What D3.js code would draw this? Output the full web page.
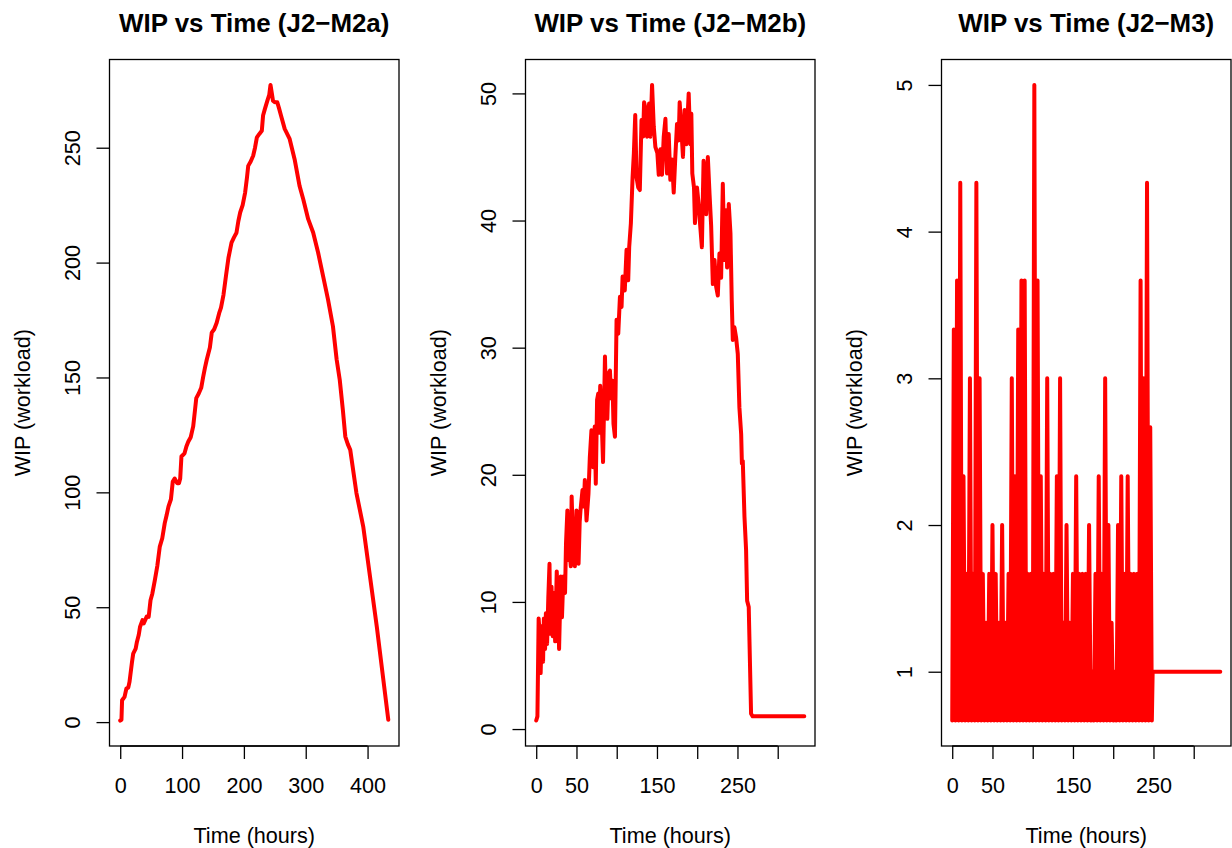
<!DOCTYPE html>
<html><head><meta charset="utf-8">
<script src="https://cdn.jsdelivr.net/npm/d3@7"></script>
<style>html,body{margin:0;padding:0;background:#fff;} svg{display:block;}</style>
</head><body>
<svg id="chart" width="1232" height="848"></svg>
<script>
// ---------- data ----------
const titles = ["WIP vs Time (J2\u2212M2a)", "WIP vs Time (J2\u2212M2b)", "WIP vs Time (J2\u2212M3)"];
const xTitle = "Time (hours)";
const yTitle = "WIP (workload)";

const m2aTime = [0, 2, 3, 7, 10, 13, 15, 19, 21, 25, 27, 30, 32, 36, 38, 43, 46, 49, 52, 56, 60, 64, 68, 72, 75, 78, 82, 85, 88, 92, 95, 97, 99, 104, 107, 110, 114, 118, 121, 123, 127, 131, 134, 137, 140, 145, 148, 152, 156, 160, 163, 167, 171, 175, 180, 184, 188, 191, 194, 198, 202, 205, 207, 211, 215, 218, 221, 225, 229, 231, 234, 238, 241, 243, 245, 247, 250, 254, 257, 260, 266, 274, 282, 290, 296, 304, 312, 320, 328, 336, 344, 350, 355, 360, 364, 368, 372, 382, 393, 404, 415, 433.5];
const m2aWip = [0.667, 1, 9.5, 11, 14.6, 15, 17.5, 26, 29.8, 32, 34.9, 38, 41.4, 44.4, 43, 46, 45.8, 53, 56, 61.8, 68, 76.4, 80, 86.6, 90, 93.8, 97, 104.7, 106, 104, 104, 106, 115.6, 117, 120, 122, 124, 128.7, 136, 141, 143, 145.5, 150, 154.2, 157.8, 163, 169.5, 171, 173.8, 178, 180.4, 186, 194.2, 202, 208.7, 211, 213, 218, 221.8, 225, 230.5, 237, 242.1, 244, 246.5, 250, 254.5, 256, 257.4, 264, 266.9, 270.5, 273, 277.33, 274, 270.5, 269.8, 269.8, 267, 264, 258.2, 253.8, 245, 233.4, 227.6, 218.9, 213.1, 204.4, 194.2, 184, 172.3, 157.8, 149, 136, 124.3, 121, 118.5, 99.7, 85.1, 63.3, 41.4, 1];

const m2bTime = [0, 1.5, 3, 4.5, 5.5, 7, 8.5, 9.5, 11, 12, 13.5, 15, 16.5, 17.5, 19, 20.5, 22, 23.5, 25.5, 27, 28.4, 30.5, 32, 33.7, 35.8, 37, 38.7, 40, 41.1, 43, 44, 46, 48, 50, 52.6, 54, 55, 57.5, 59, 60.4, 62.5, 64.9, 66.6, 68.6, 70.7, 72.7, 74, 75.6, 77.1, 78, 79.5, 81.3, 83, 85.4, 86.5, 88.3, 90, 91.6, 93, 94.7, 96, 97.8, 99.8, 101.9, 104, 106, 107.3, 110, 112.2, 114.3, 115.5, 117.6, 119.7, 121.3, 123, 124.6, 126.7, 128.7, 130.8, 132.8, 134, 136.1, 137.7, 140.2, 141.8, 143.9, 146, 148, 150.5, 152.2, 154.3, 156.3, 158.4, 160.5, 162.5, 164.6, 166.6, 168.7, 170.8, 172.8, 174.9, 176.9, 178.2, 180.3, 182.3, 184.4, 186.5, 189.4, 191.4, 192.7, 193.9, 196, 197.2, 199.7, 202.1, 203.7, 205.8, 207.9, 209.5, 211.2, 213.2, 215.3, 217.3, 219.4, 221.5, 223.5, 225.6, 227.6, 229.7, 231.8, 233.8, 235.9, 237.1, 239.2, 241.3, 242.9, 244.2, 246.2, 248.3, 250.4, 252.4, 254.6, 255.5, 256.6, 258.7, 260.7, 262, 264, 266.9, 268.9, 333];
const m2bWip = [0.667, 1, 8.7, 7.3, 4.4, 8.1, 5.3, 8.7, 6.3, 9.1, 6.7, 10.3, 13, 7.5, 11.2, 7.3, 10.7, 6.9, 12.4, 9.9, 6.3, 12, 8.8, 12, 10.7, 14.6, 17.2, 13.3, 14.3, 12.8, 18.3, 14.1, 12.8, 17.2, 13, 16.3, 17.2, 18.8, 17.5, 19.6, 16.4, 18.5, 21.4, 23.5, 20.6, 23.8, 19.3, 25.9, 26.4, 23.3, 27, 24.3, 21, 29.3, 26, 24.4, 28, 28.2, 26, 27.4, 24, 23, 32.2, 31.1, 34, 33.2, 35.6, 34.5, 37.7, 35.3, 37.9, 39.8, 43.4, 45.3, 48.3, 43.4, 42.6, 42.4, 47.9, 46.6, 49.3, 48.7, 46.6, 49.2, 46.6, 50.667, 47.4, 45.8, 45.3, 43.6, 45.6, 43.6, 46.6, 48, 43.7, 46.8, 43.2, 44.8, 42.2, 45, 47.6, 46.3, 49.3, 47.2, 45, 48.7, 46, 50, 46, 48.4, 43.7, 42.6, 39.8, 42.6, 41.1, 39.6, 37.9, 44.7, 43, 40.5, 45, 42.1, 39.6, 35, 36.9, 34.8, 34.1, 37.4, 35.5, 42.9, 36.9, 40.8, 36.3, 41.3, 39, 33.7, 30.6, 31.6, 30.8, 29.5, 25.3, 23.2, 20.9, 21.1, 16.7, 14.1, 10.1, 9.6, 1.2, 1, 1];

// J2-M3: samples every m3Step hours from t = 0, then a flat tail
const m3Step = 2;
const m3Wip = [
  0.667, 3.333, 0.667, 3.667, 0.667, 4.333, 0.667, 2.333, 0.667, 1.667,
  0.667, 3, 0.667, 1.667, 0.667, 4.333, 0.667, 3, 0.667, 1.667,
  0.667, 1.333, 0.667, 1.667, 0.667, 2, 0.667, 1.667, 0.667, 1.333,
  0.667, 2, 0.667, 1.333, 0.667, 1.667, 0.667, 3, 0.667, 2.333,
  0.667, 3.333, 0.667, 3.667, 0.667, 3.667, 0.667, 1.667, 0.667, 1.667,
  0.667, 5, 0.667, 3.667, 0.667, 2.333, 0.667, 1.667, 0.667, 3,
  0.667, 1.667, 0.667, 1.667, 0.667, 2.333, 0.667, 3, 0.667, 1.333,
  0.667, 2, 0.667, 1.333, 0.667, 1.667, 0.667, 2.333, 0.667, 1.667,
  0.667, 1.667, 0.667, 1.667, 0.667, 2, 0.667, 1, 0.667, 1.667,
  0.667, 2.333, 0.667, 1.667, 0.667, 3, 0.667, 2, 0.667, 1.333,
  0.667, 1, 0.667, 2, 0.667, 2.333, 0.667, 1.667, 0.667, 2.333,
  0.667, 1.667, 0.667, 1.667, 0.667, 1.667, 0.667, 3.667, 0.667, 3,
  0.667, 4.333, 0.667, 2.667, 0.667
];
const m3TailTime = [249, 333];
const m3TailWip = [1, 1];

const xTickValues = [[0, 100, 200, 300, 400], [0, 50, 100, 150, 200, 250, 300], [0, 50, 100, 150, 200, 250, 300]];
const xTickLabels = [["0", "100", "200", "300", "400"], ["0", "50", "", "150", "", "250", ""], ["0", "50", "", "150", "", "250", ""]];
const yTickValues = [[0, 50, 100, 150, 200, 250], [0, 10, 20, 30, 40, 50], [1, 2, 3, 4, 5]];

// ---------- build series ----------
const series = [
  m2aTime.map((t, i) => [t, m2aWip[i]]),
  m2bTime.map((t, i) => [t, m2bWip[i]]),
  m3Wip.map((v, i) => [i * m3Step, v]).concat(m3TailTime.map((t, i) => [t, m3TailWip[i]]))
];

// ---------- layout ----------
const svg = d3.select("#chart");
const boxLefts = [109.5, 525.5, 941.5];
const boxW = 289.5, boxTop = 59.5, boxBottom = 746;
const FONT = "'Liberation Sans', Arial, Helvetica, sans-serif";
const FS = 21.6;

function pad(ext) { const d = (ext[1] - ext[0]) * 0.04; return [ext[0] - d, ext[1] + d]; }

series.forEach((data, p) => {
  const L = boxLefts[p], R = L + boxW;
  const x = d3.scaleLinear().domain(pad(d3.extent(data, d => d[0]))).range([L, R]);
  const y = d3.scaleLinear().domain(pad(d3.extent(data, d => d[1]))).range([boxBottom, boxTop]);
  const g = svg.append("g");

  // line
  g.append("path")
    .datum(data)
    .attr("fill", "none")
    .attr("stroke", "#ff0000")
    .attr("stroke-width", 4)
    .attr("stroke-linejoin", "round")
    .attr("stroke-linecap", "round")
    .attr("d", d3.line().x(d => x(d[0])).y(d => y(d[1])));

  // x axis
  const xa = g.append("g").attr("transform", `translate(0,${boxBottom})`)
    .call(d3.axisBottom(x).tickValues(xTickValues[p]).tickSize(13).tickSizeOuter(0)
      .tickFormat((d, i) => xTickLabels[p][i]));
  xa.select(".domain").remove();
  xa.selectAll(".tick line").attr("stroke", "#000").attr("stroke-width", 1.3);
  xa.selectAll(".tick text").attr("y", 46.7).attr("dy", 0)
    .attr("font-family", FONT).attr("font-size", FS).attr("fill", "#000");
  const xt = xTickValues[p];
  g.append("line").attr("x1", x(xt[0])).attr("x2", x(xt[xt.length - 1]))
    .attr("y1", boxBottom).attr("y2", boxBottom).attr("stroke", "#000").attr("stroke-width", 1.3);

  // y axis
  const ya = g.append("g").attr("transform", `translate(${L},0)`)
    .call(d3.axisLeft(y).tickValues(yTickValues[p]).tickSize(13).tickSizeOuter(0).tickFormat(d3.format("d")));
  ya.select(".domain").remove();
  ya.selectAll(".tick line").attr("stroke", "#000").attr("stroke-width", 1.3);
  ya.selectAll(".tick text")
    .attr("transform", "rotate(-90)")
    .attr("x", 0).attr("y", -29.5).attr("dy", 0)
    .attr("text-anchor", "middle")
    .attr("font-family", FONT).attr("font-size", FS).attr("fill", "#000");

  // box
  g.append("rect").attr("x", L).attr("y", boxTop).attr("width", boxW).attr("height", boxBottom - boxTop)
    .attr("fill", "none").attr("stroke", "#000").attr("stroke-width", 1.3);

  // title
  g.append("text").attr("x", (L + R) / 2).attr("y", 31.7)
    .attr("text-anchor", "middle").attr("font-family", FONT).attr("font-weight", "bold")
    .attr("font-size", 25.9).attr("fill", "#000").text(titles[p]);

  // x title
  g.append("text").attr("x", (L + R) / 2).attr("y", 842.5)
    .attr("text-anchor", "middle").attr("font-family", FONT)
    .attr("font-size", FS).attr("fill", "#000").text(xTitle);

  // y title
  const cy = (boxTop + boxBottom) / 2;
  g.append("text").attr("transform", `translate(${L - 80},${cy}) rotate(-90)`)
    .attr("text-anchor", "middle").attr("font-family", FONT)
    .attr("font-size", FS).attr("fill", "#000").text(yTitle);
});
</script>
</body></html>
